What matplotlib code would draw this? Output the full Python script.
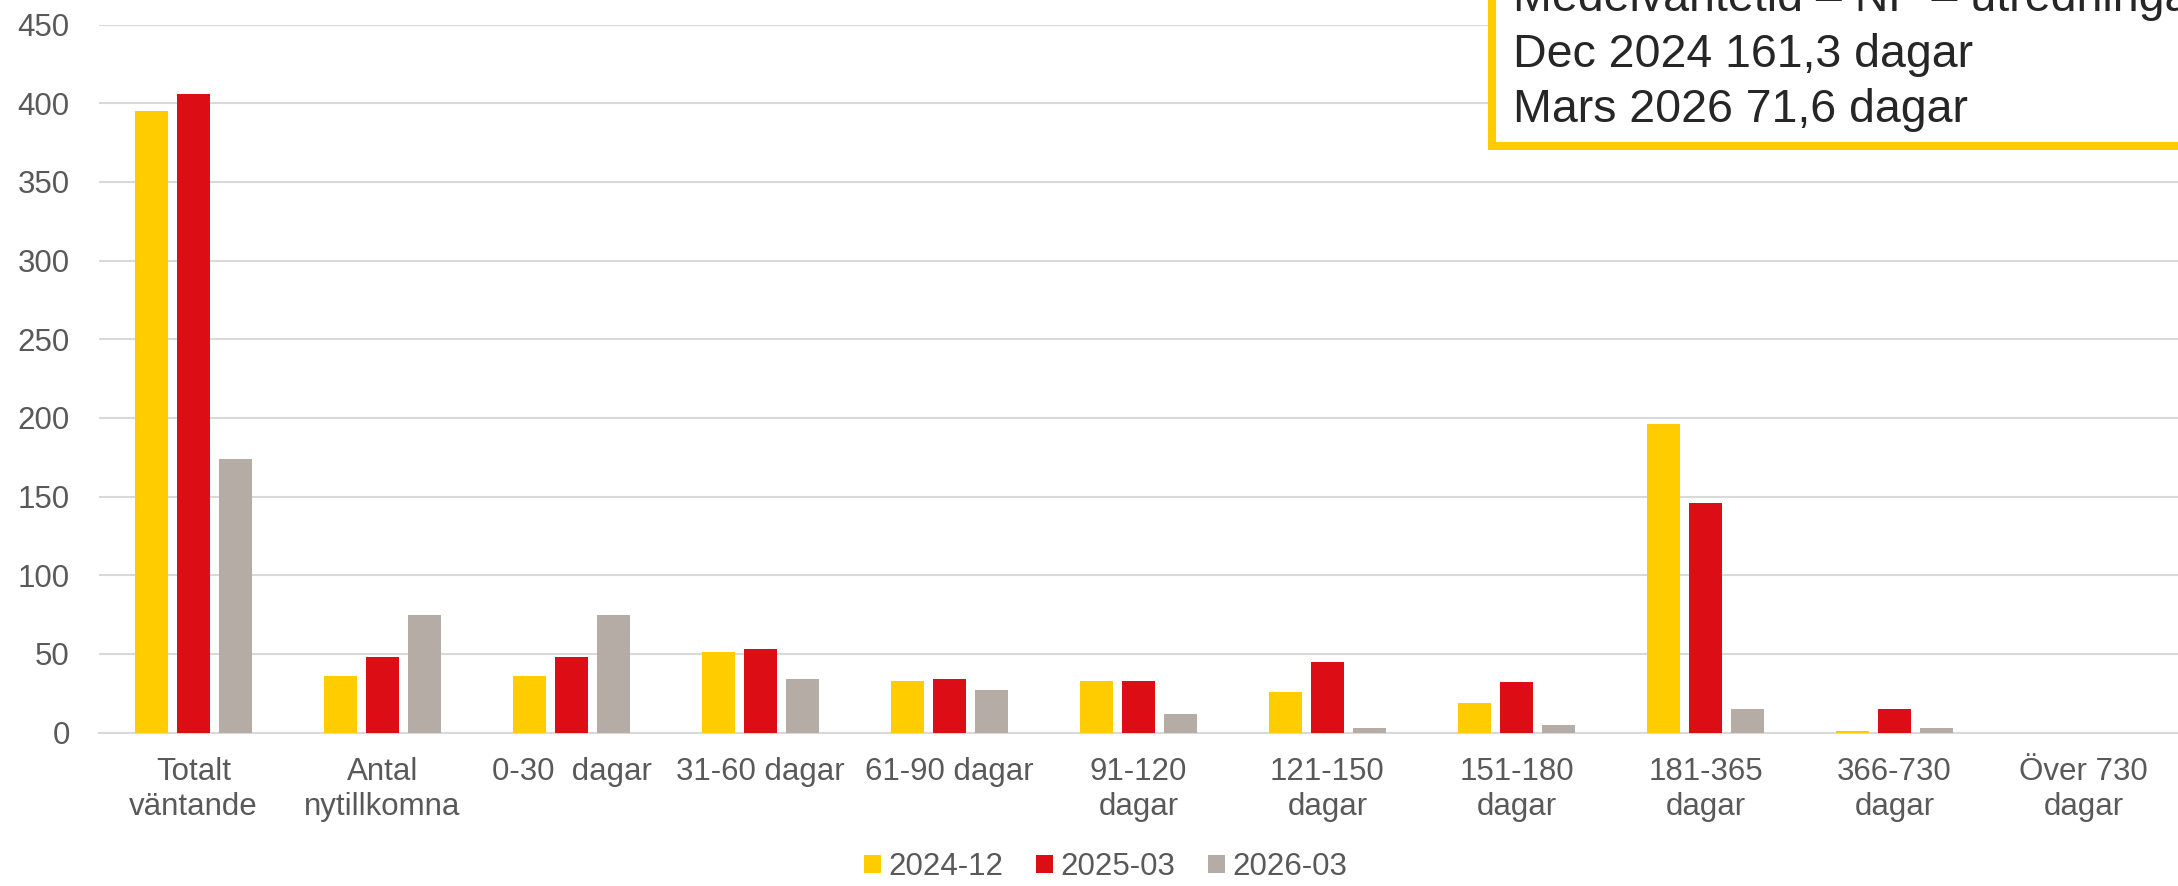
import numpy as np
import matplotlib
matplotlib.use("Agg")
import matplotlib.pyplot as plt
from matplotlib.patches import Rectangle, Patch

plt.rcParams['font.family'] = ['Liberation Sans', 'DejaVu Sans']

# kategorier och värden
kategorier = ["Totalt\nväntande", "Antal\nnytillkomna", "0-30  dagar", "31-60 dagar",
              "61-90 dagar", "91-120\ndagar", "121-150\ndagar", "151-180\ndagar",
              "181-365\ndagar", "366-730\ndagar", "Över 730\ndagar"]
serier = ["2024-12", "2025-03", "2026-03"]
v_2024_12 = [395, 36, 36, 51, 33, 33, 26, 19, 196, 1, 0]
v_2025_03 = [406, 48, 48, 53, 34, 33, 45, 32, 146, 15, 0]
v_2026_03 = [174, 75, 75, 34, 27, 12, 3, 5, 15, 3, 0]
farger = ["#FFCC00", "#DC0D15", "#B5ADA5"]
ruta_rader = ["Medelväntetid – NP – utredningar",
              "Dec 2024 161,3 dagar",
              "Mars 2026 71,6 dagar"]

W, H = 2178, 886
fig = plt.figure(figsize=(W / 100, H / 100), dpi=100)
ax = fig.add_axes([99 / W, 153.5 / H, 1 - 99 / W, (732.5 - 24.7) / H])

x = np.arange(len(kategorier))
bredd = 0.172
steg = 0.221
for i, (vals, f) in enumerate(zip([v_2024_12, v_2025_03, v_2026_03], farger)):
    ax.bar(x + (i - 1) * steg, vals, width=bredd, color=f, zorder=3)

ax.set_xlim(-0.5, len(kategorier) - 0.5)
ax.set_ylim(0, 450)
ax.set_yticks(range(0, 451, 50))
ax.set_xticks(x)
ax.set_xticklabels(kategorier, linespacing=1.22)
ax.tick_params(axis='both', length=0, labelsize=22.5, labelcolor='#595959')
ax.tick_params(axis='y', pad=21)
ax.tick_params(axis='x', pad=17.5)
ax.grid(axis='y', color='#D9D9D9', linewidth=1.5, zorder=0)
for s in ['top', 'right', 'left']:
    ax.spines[s].set_visible(False)
ax.spines['bottom'].set_color('#D9D9D9')
ax.spines['bottom'].set_linewidth(1.5)

handtag = [Patch(facecolor=f, edgecolor='none') for f in farger]
fig.legend(handtag, serier, loc='center', bbox_to_anchor=(1105.5 / W, 19 / H),
           ncol=3, frameon=False, fontsize=22.5, labelcolor='#595959',
           handlelength=0.55, handleheight=0.55, handletextpad=0.23,
           columnspacing=1.05)

# textruta uppe till höger, går ut över kanten som i originalet
ruta = Rectangle((1492 / W, (H - 146) / H), 0.5, 0.5, transform=fig.transFigure,
                 facecolor='white', edgecolor='#FFCC00', linewidth=5.8, zorder=5)
fig.patches.append(ruta)
for rad, y in zip(ruta_rader, [11, 66.7, 122.3]):
    fig.text(1513 / W, (H - y) / H, rad, fontsize=33.5, color='#262626',
             va='baseline', ha='left', zorder=6)

fig.savefig("out.png", dpi=100)
